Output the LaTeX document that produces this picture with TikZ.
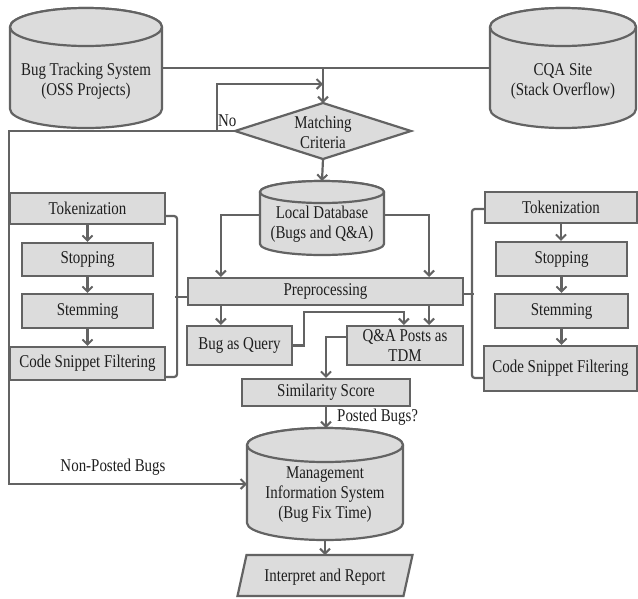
\documentclass[tikz,border=0pt]{standalone}
\usepackage{fontspec}
\setmainfont{Liberation Serif}[FakeStretch=0.83]
\usetikzlibrary{arrows.meta,calc}
\definecolor{ln}{HTML}{636363}
\definecolor{fl}{HTML}{DCDCDC}
\definecolor{tx}{HTML}{1E1E1E}
\newcommand\dbcyl[5]{%
  \filldraw[shapeln] (#1,#2+#5) -- (#1,#4-#5)
    arc[start angle=180,end angle=0,x radius={(#3-#1)/2},y radius=#5]
    -- (#3,#2+#5)
    arc[start angle=0,end angle=-180,x radius={(#3-#1)/2},y radius=#5] -- cycle;
  \draw[shapeln] ({(#1+#3)/2},#2+#5) ellipse[x radius={(#3-#1)/2},y radius=#5];
}
\tikzset{
  shapeln/.style={draw=ln, fill=fl, line width=2.2pt},
  ln/.style={draw=ln, line width=2.2pt},
  arr/.style={ln, -{Straight Barb[length=5pt,width=10pt,line width=2pt]}},
  txt/.style={text=tx, font=\fontsize{18}{20}\selectfont, align=center, inner sep=0pt},
  box/.style={txt, draw=ln, fill=fl, line width=2.2pt},
  anch/.style={inner sep=0pt, outer sep=0pt},
  lbl/.style={text=tx, font=\fontsize{18}{20}\selectfont, inner sep=0pt},
}
\begin{document}
\begin{tikzpicture}[x=1pt,y=1pt,yscale=-1]
\useasboundingbox (0,0) rectangle (638,598);

% ---- shapes drawn directly ----
\dbcyl{10}{8}{162}{128}{19}
\dbcyl{490}{8}{636}{128}{19}
\dbcyl{260}{181}{384}{255}{11}
\dbcyl{247}{428}{403}{540}{17}
\filldraw[shapeln] (323,103) -- (411,131) -- (323,159) -- (235,131) -- cycle;
\filldraw[shapeln] (246.5,555) -- (412.5,555) -- (403.5,596) -- (237.5,596) -- cycle;

% ---- named nodes ----
\node[anch, minimum width=152, minimum height=120] (bts) at (86,68) {};
\node[txt] (btsT) at (86,81) {Bug Tracking System\\(OSS Projects)};
\node[anch, minimum width=146, minimum height=120] (cqa) at (563,68) {};
\node[txt] (cqaT) at (563,81) {CQA Site\\(Stack Overflow)};
\node[anch, minimum width=176, minimum height=56] (mc) at (323,131) {};
\node[txt] (mcT) at (323,132) {Matching\\Criteria};
\node[anch, minimum width=124, minimum height=68] (ldb) at (322,215) {};
\node[txt] (ldbT) at (322,224) {Local Database\\(Bugs and Q\&A)};
\node[anch, minimum width=156, minimum height=112] (mis) at (325,484) {};
\node[txt] (misT) at (325,495) {Management\\Information System\\(Bug Fix Time)};
\node[anch, minimum width=175, minimum height=41] (ir) at (325,575.5) {};
\node[txt] (irT) at (325,577) {Interpret and Report};

\node[box, minimum width=275, minimum height=27] (pre) at (325.5,291.5) {Preprocessing};
\node[box, minimum width=105, minimum height=39] (bq) at (239.5,345.5) {Bug as Query};
\node[box, minimum width=116, minimum height=39] (qa) at (405,345.5) {Q\&A Posts as\\TDM};
\node[box, minimum width=168, minimum height=27] (sim) at (326,392.5) {Similarity Score};

\node[box, minimum width=155, minimum height=31] (tokL) at (87.5,208.5) {Tokenization};
\node[box, minimum width=131, minimum height=33] (stopL) at (87.5,259.5) {Stopping};
\node[box, minimum width=131, minimum height=34] (stemL) at (87.5,311) {Stemming};
\node[box, minimum width=155, minimum height=33] (csfL) at (87.5,363.5) {Code Snippet Filtering};

\node[box, minimum width=152, minimum height=31] (tokR) at (561,207.5) {Tokenization};
\node[box, minimum width=131, minimum height=34] (stopR) at (561.5,259) {Stopping};
\node[box, minimum width=133, minimum height=34] (stemR) at (561.5,311) {Stemming};
\node[box, minimum width=153, minimum height=45] (csfR) at (560.5,368.5) {Code Snippet Filtering};

\node[lbl, anchor=south west] (nolbl) at (218,127) {No};
\node[lbl] (nplbl) at (113,467) {Non-Posted Bugs};
\node[lbl, anchor=west] (pblbl) at (337,417) {Posted Bugs?};

% ---- connectors ----
\coordinate (nofork) at (217,131);
\coordinate (noturn) at (217,84);
\coordinate (lc1) at (9,131);

\draw[ln] (bts.east) -- (cqa.west);
\draw[arr] (bts.east -| mc.north) -- (mc.north);
\draw[arr] (nofork) -- (noturn) -- (noturn -| mc.north);
\draw[arr] (mc.west) -- (lc1) |- (mis.west);
\draw[arr] (mc.south) -- (ldb.north);
\draw[arr] (ldb.west) -| ($(pre.north west)+(34,0)$);
\draw[arr] (ldb.east) -| ($(pre.north east)+(-35,0)$);
\draw[arr] ($(pre.south west)+(34,0)$) -- ($(bq.north west)+(35,0)$);
\draw[arr] ($(pre.south east)+(-35,0)$) -- ($(qa.north east)+(-35,0)$);
\draw[arr] (bq.east) -- ++(11,0) -- ++(0,-33.5) -| ($(qa.north west)+(58,0)$);
\draw[arr] ($(qa.west)+(0,-8.5)$) -| (sim.north);
\draw[arr] (sim.south) -- (sim.south |- mis.north);
\draw[arr] (mis.south) -- (ir.north);

\draw[arr] (tokL.south) -- (stopL.north);
\draw[arr] (stopL.south) -- (stemL.north);
\draw[arr] (stemL.south) -- (csfL.north);
\draw[arr] (tokR.south) -- (tokR.south |- stopR.north);
\draw[arr] (stopR.south) -- (stopR.south |- stemR.north);
\draw[arr] (stemR.south) -- (stemR.south |- csfR.north);

\draw[ln, rounded corners=3pt] ($(tokL.east)+(0,7.5)$) -- ++(11,0) |- ($(csfL.east)+(0,13.5)$);
\draw[ln] ($(pre.west)+(0,5.5)$) -- ++(-12,0);
\draw[ln, rounded corners=3pt] ($(tokR.west)+(0,1.5)$) -- ++(-12,0) |- ($(csfR.west)+(0,9.5)$);
\draw[ln] ($(pre.east)+(0,2.5)$) -- ++(10,0);
\end{tikzpicture}
\end{document}
